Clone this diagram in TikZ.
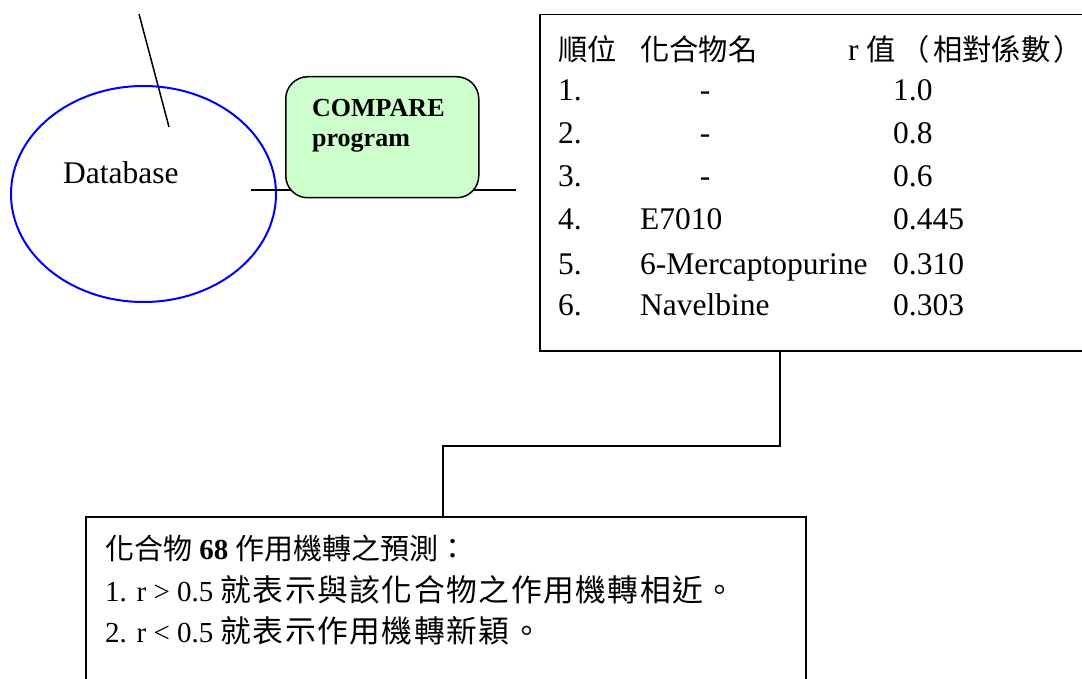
\documentclass[tikz,border=0pt]{standalone}
\usepackage{fontspec}
\setmainfont{Liberation Serif}
\newfontfamily\cjk{Noto Sans CJK TC}[Scale=0.93]
\newfontfamily\cjkb{Noto Sans CJK TC}
\newfontfamily\cjkw{Noto Sans CJK TC}[Scale=1.06,LetterSpace=5]
\usetikzlibrary{shapes.geometric}
\definecolor{cmpfill}{RGB}{204,255,204}
\definecolor{dbblue}{RGB}{0,0,255}
\newcommand\latfont{\fontsize{31.5}{36}\selectfont}
\newcommand\predfont{\fontsize{29}{36}\selectfont}
\begin{document}
\begin{tikzpicture}[x=1pt,y=-1pt,
  conn/.style={draw=black, line width=1.5pt},
  boxed/.style={draw=black, line width=1.5pt, fill=white, inner sep=0pt, anchor=north west},
  t/.style={inner sep=0pt, anchor=base west, font=\latfont},
  tc/.style={inner sep=0pt, anchor=base, font=\latfont},
  pt/.style={inner sep=0pt, anchor=base west, font=\predfont}]
\useasboundingbox (0,0) rectangle (1082,679);
\clip (0,0) rectangle (1082,679);
\fill[white] (0,0) rectangle (1082,679);

% slanted line
\coordinate (s1) at (139,14);
\coordinate (s2) at (169,127);
\draw[conn] (s1) -- (s2);

% database ellipse
\node[draw=dbblue, line width=2pt, ellipse, minimum width=265, minimum height=216, inner sep=0pt] (db) at (143.5,194) {};
\node[t] (dbt) at (63,184) {Database};

% horizontal line behind COMPARE box
\coordinate (hl) at (251,190);
\coordinate (hr) at (516,190);
\draw[conn] (hl) -- (hr);

% COMPARE box
\node[draw=black, line width=1.5pt, fill=cmpfill, rounded corners=22pt, minimum width=193, minimum height=121, anchor=north west] (cmp) at (285,76) {};
\node[inner sep=0pt, anchor=base west, font=\bfseries\fontsize{26}{30}\selectfont] (cmpa) at (312,117) {COMPARE};
\node[inner sep=0pt, anchor=base west, font=\bfseries\fontsize{26}{30}\selectfont] (cmpb) at (312,147) {program};

% result table
\node[boxed, minimum width=560, minimum height=336] (tbl) at (539,14) {};
\node[t] (h1) at (558,61) {\cjk 順位};
\node[t] (h2) at (640,61) {\cjk 化合物名};
\node[t] (h3) at (848,61) {r {\cjk 值\hspace{5pt}（\hspace{3pt}相對係數\hspace{3pt}）}};

\node[t] (n1) at (558,101) {1.};
\node[tc] (m1) at (705,101) {-};
\node[t] (v1) at (893,101) {1.0};
\node[t] (n2) at (558,144) {2.};
\node[tc] (m2) at (705,144) {-};
\node[t] (v2) at (893,144) {0.8};
\node[t] (n3) at (558,187) {3.};
\node[tc] (m3) at (705,187) {-};
\node[t] (v3) at (893,187) {0.6};
\node[t] (n4) at (558,230) {4.};
\node[t] (m4) at (640,230) {E7010};
\node[t] (v4) at (893,230) {0.445};
\node[t] (n5) at (558,274) {5.};
\node[t] (m5) at (640,274) {6-Mercaptopurine};
\node[t] (v5) at (893,274) {0.310};
\node[t] (n6) at (558,316) {6.};
\node[t] (m6) at (640,316) {Navelbine};
\node[t] (v6) at (893,316) {0.303};

% prediction box
\node[boxed, minimum width=720, minimum height=190] (pred) at (85,516) {};
\node[pt] (p1) at (105,559) {{\cjkb 化合物} \textbf{68} {\cjkb 作用機轉之預測：}};
\node[pt] (p2) at (105,601) {1. r > 0.5 {\cjkw 就表示與該化合物之作用機轉相近。}};
\node[pt] (p3) at (105,642) {2. r < 0.5 {\cjkw 就表示作用機轉新穎。}};

% elbow connector
\coordinate (c1) at (780,446);
\coordinate (c2) at (443,446);
\draw[conn] (tbl.south -| c1) -- (c1) -- (c2) -- (c2 |- pred.north);
\end{tikzpicture}
\end{document}
